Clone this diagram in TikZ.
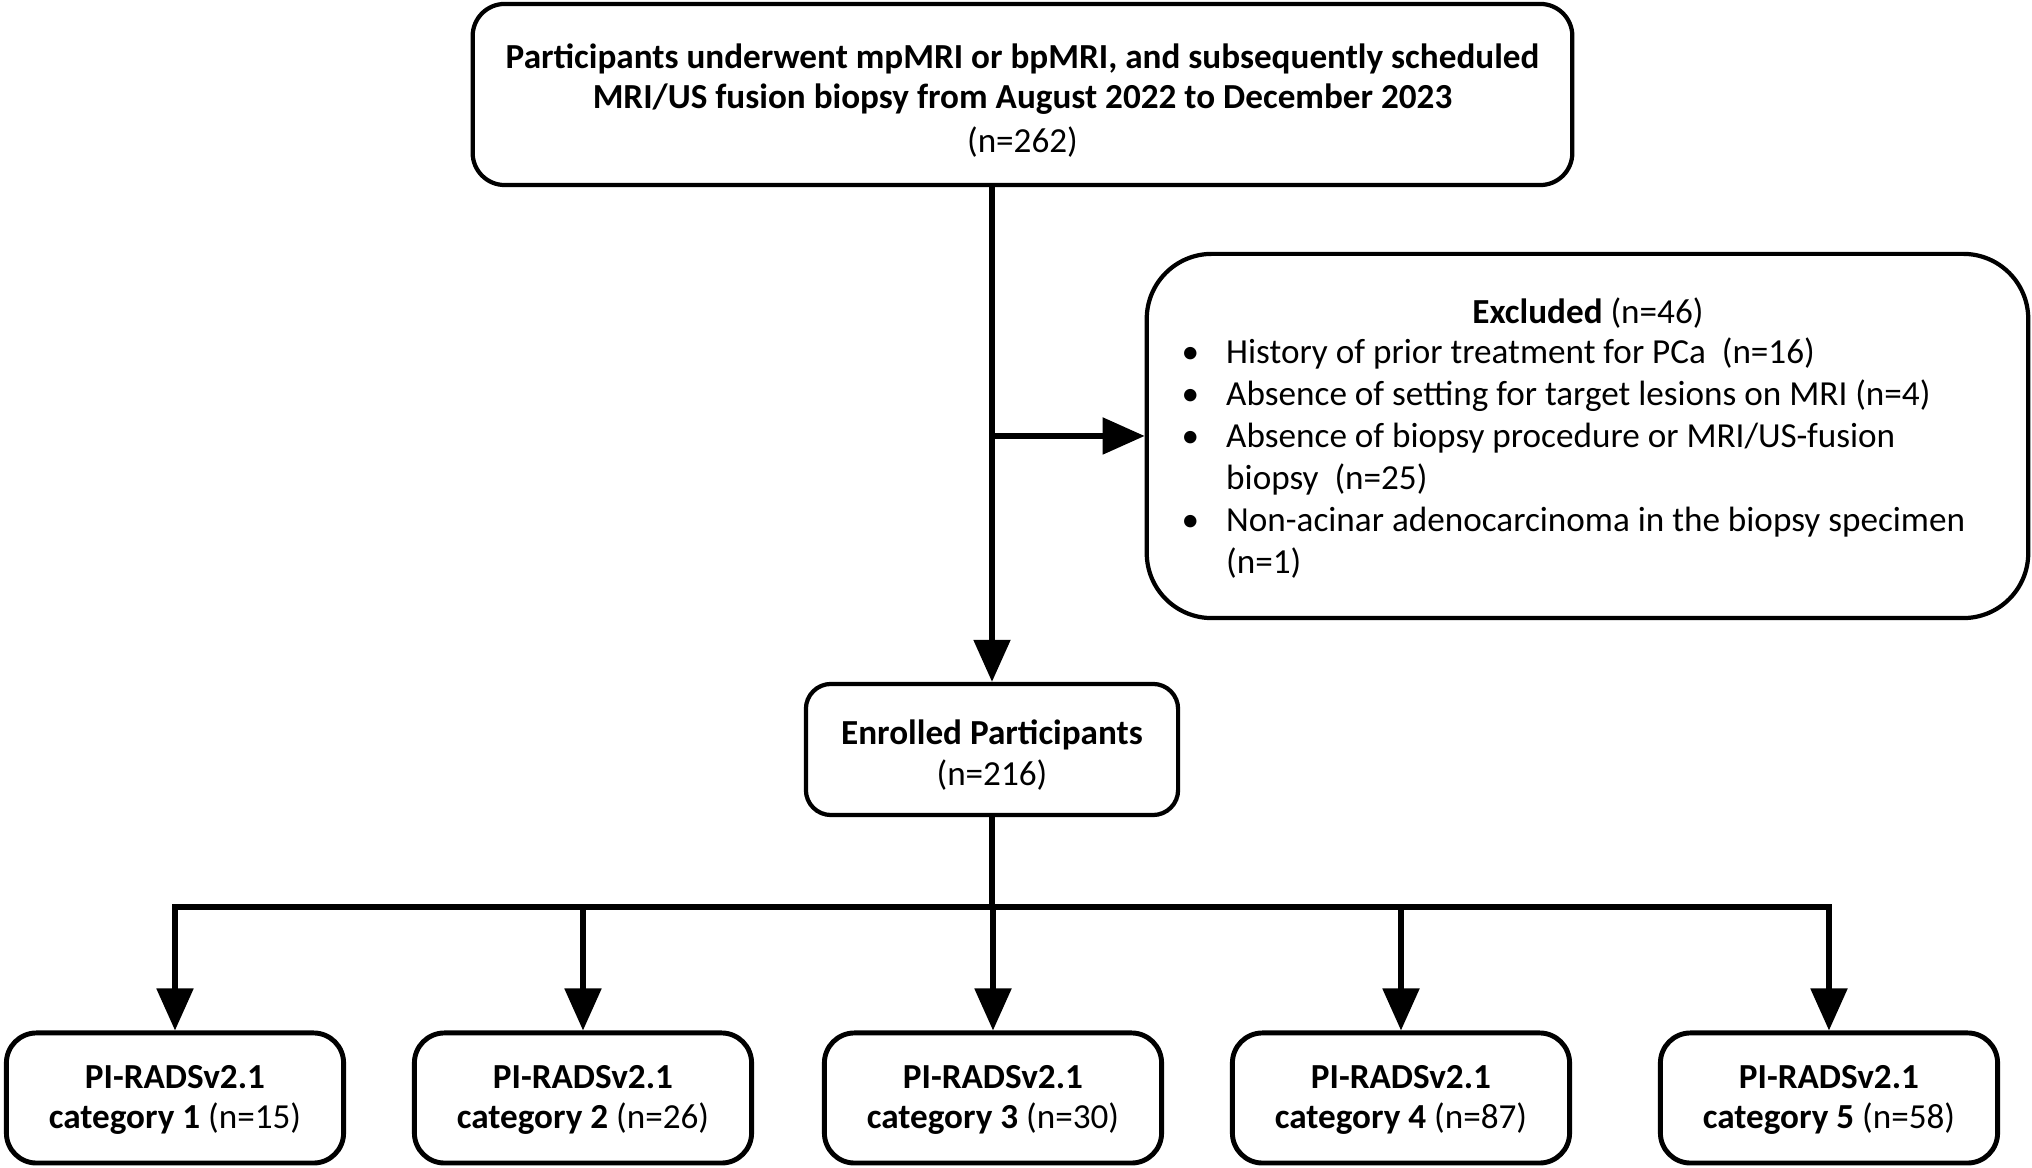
\documentclass[tikz,border=0pt]{standalone}
\usepackage{fontspec}
\setmainfont{Carlito}
\usetikzlibrary{arrows.meta}
\begin{document}
\begin{tikzpicture}[x=0.01cm,y=-0.01cm,
  box/.style={draw=black,line width=1.2pt,inner sep=0pt},
  boxtxt/.style={align=center,inner sep=0pt,font=\fontsize{10}{11.3}\selectfont},
  conn/.style={line width=1.5pt,draw=black},
  arr/.style={conn,-{Triangle[length=0.42cm,width=0.36cm]}},
  txt/.style={inner sep=0pt,font=\fontsize{10}{11.9}\selectfont}]
\useasboundingbox (0,0) rectangle (2032,1168);
\node[box,minimum width=10.99cm,minimum height=1.81cm,rounded corners=0.32cm] (top) at (1022.5,94.5) {};
\node[boxtxt] (toptxt) at ([yshift=-1.8pt]top.center)
  {\textbf{Participants underwent mpMRI or bpMRI, and subsequently scheduled}\\
   \textbf{MRI/US fusion biopsy from August 2022 to December 2023}\\[1.3pt]
   (n=262)};
\node[box,minimum width=8.81cm,minimum height=3.64cm,rounded corners=0.65cm] (excl) at (1587.5,436) {};
\node[txt] (exclhead) at (1588,313) {\textbf{Excluded} (n=46)};
\node[txt,anchor=north west] (excllist) at (1181,334) {%
  \begin{tabular}{@{}p{0.445cm}@{}l@{}}
  \textbullet & History of prior treatment for PCa\ \ (n=16)\\
  \textbullet & Absence of setting for target lesions on MRI (n=4)\\
  \textbullet & Absence of biopsy procedure or MRI/US-fusion\\
              & biopsy\ \ (n=25)\\
  \textbullet & Non-acinar adenocarcinoma in the biopsy specimen\\
              & (n=1)
  \end{tabular}};
\node[box,minimum width=3.72cm,minimum height=1.31cm,rounded corners=0.25cm] (enr) at (992,749.5) {};
\node[boxtxt,font=\fontsize{10}{11.6}\selectfont] (enrtxt) at ([yshift=-1.5pt]enr.center)
  {\textbf{Enrolled Participants}\\(n=216)};
\foreach \i/\x/\n in {1/175/15,2/583/26,3/993/30,4/1401/87,5/1829/58}{
  \node[box,line width=1.4pt,minimum width=3.37cm,minimum height=1.30cm,rounded corners=0.3cm] (c\i) at (\x,1098) {};
  \node[boxtxt,font=\fontsize{10}{11.3}\selectfont] (t\i) at ([yshift=-0.6pt]c\i.center)
    {\textbf{PI-RADSv2.1}\\\textbf{category \i} (n=\n)};
}
\coordinate (split) at (992,436);
\coordinate (hub) at (992,907);
\draw[arr] (top.south -| enr.north) -- (enr.north);
\draw[arr] (split) -- (excl.west);
\draw[conn] (enr.south) -- (hub);
\draw[conn,line cap=rect] (c1.north |- hub) -- (c5.north |- hub);
\foreach \i in {1,...,5}{
  \draw[arr] (c\i.north |- hub) -- (c\i.north);
}
\end{tikzpicture}
\end{document}
